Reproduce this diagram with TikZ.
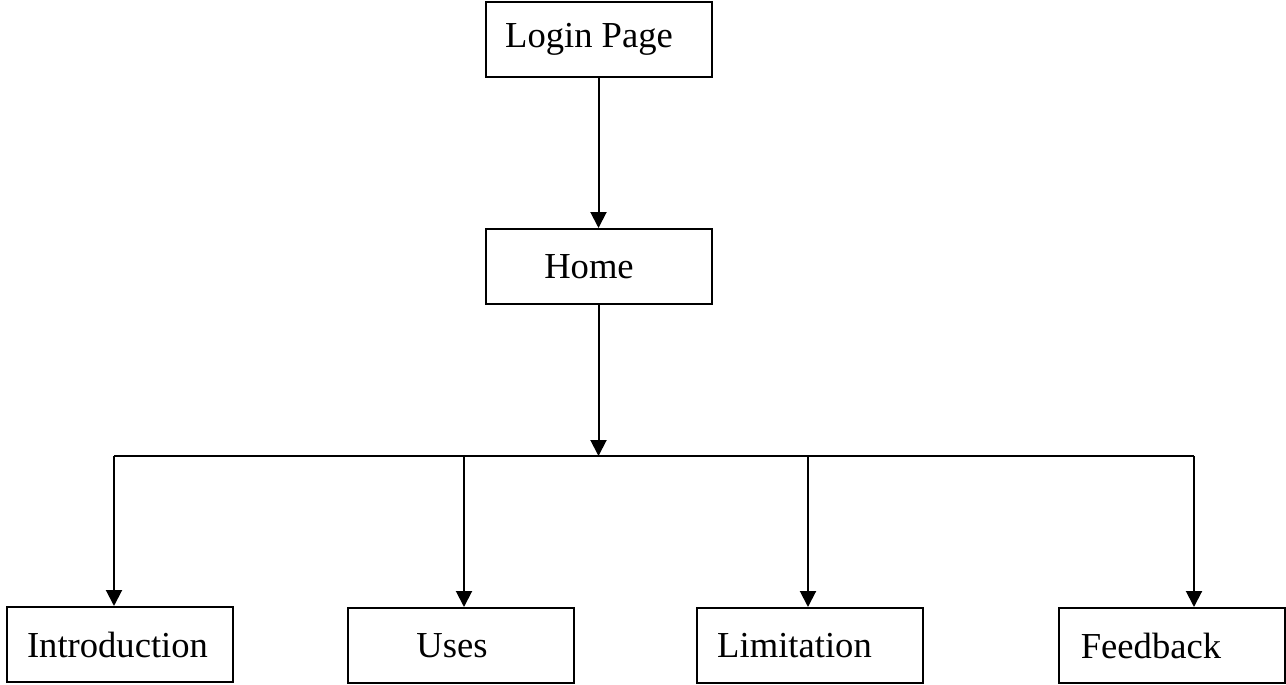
\documentclass[tikz,border=0pt]{standalone}
\usepackage{fontspec}
\setmainfont{Liberation Serif}
\usetikzlibrary{arrows.meta}
\tikzset{box/.style={draw,line width=1pt,minimum width=113pt,minimum height=37.5pt,inner sep=0pt,font=\fontsize{18.3}{22}\selectfont}}
\begin{document}
\begin{tikzpicture}[x=0.5pt,y=-0.5pt,>={Triangle[length=8pt,width=8pt]},line width=1pt]
\useasboundingbox (0,0) rectangle (1286,685);
\node[box] (L) at (598.5,39.5) {Login Page\kern9.5pt};
\node[box] (H) at (598.5,266.5) {Home\kern9.5pt};
\node[box] (I) at (119.5,644.5) {Introduction\kern2pt};
\node[box] (U) at (461,645.5) {Uses\kern9pt};
\node[box] (M) at (810,645.5) {Limitation\kern15.5pt};
\node[box] (F) at (1172,645.5) {Feedback\kern21pt};
\coordinate (P1) at (114,456);
\coordinate (P2) at (464,456);
\coordinate (P3) at (808,456);
\coordinate (P4) at (1194,456);
\draw[->] (L.south) -- (H.north);
\draw[->] (H.south) -- (H.south |- P1);
\draw (P1) -- (P4);
\draw[->] (P1) -- (P1 |- I.north);
\draw[->] (P2) -- (P2 |- U.north);
\draw[->] (P3) -- (P3 |- M.north);
\draw[->] (P4) -- (P4 |- F.north);
\end{tikzpicture}
\end{document}
